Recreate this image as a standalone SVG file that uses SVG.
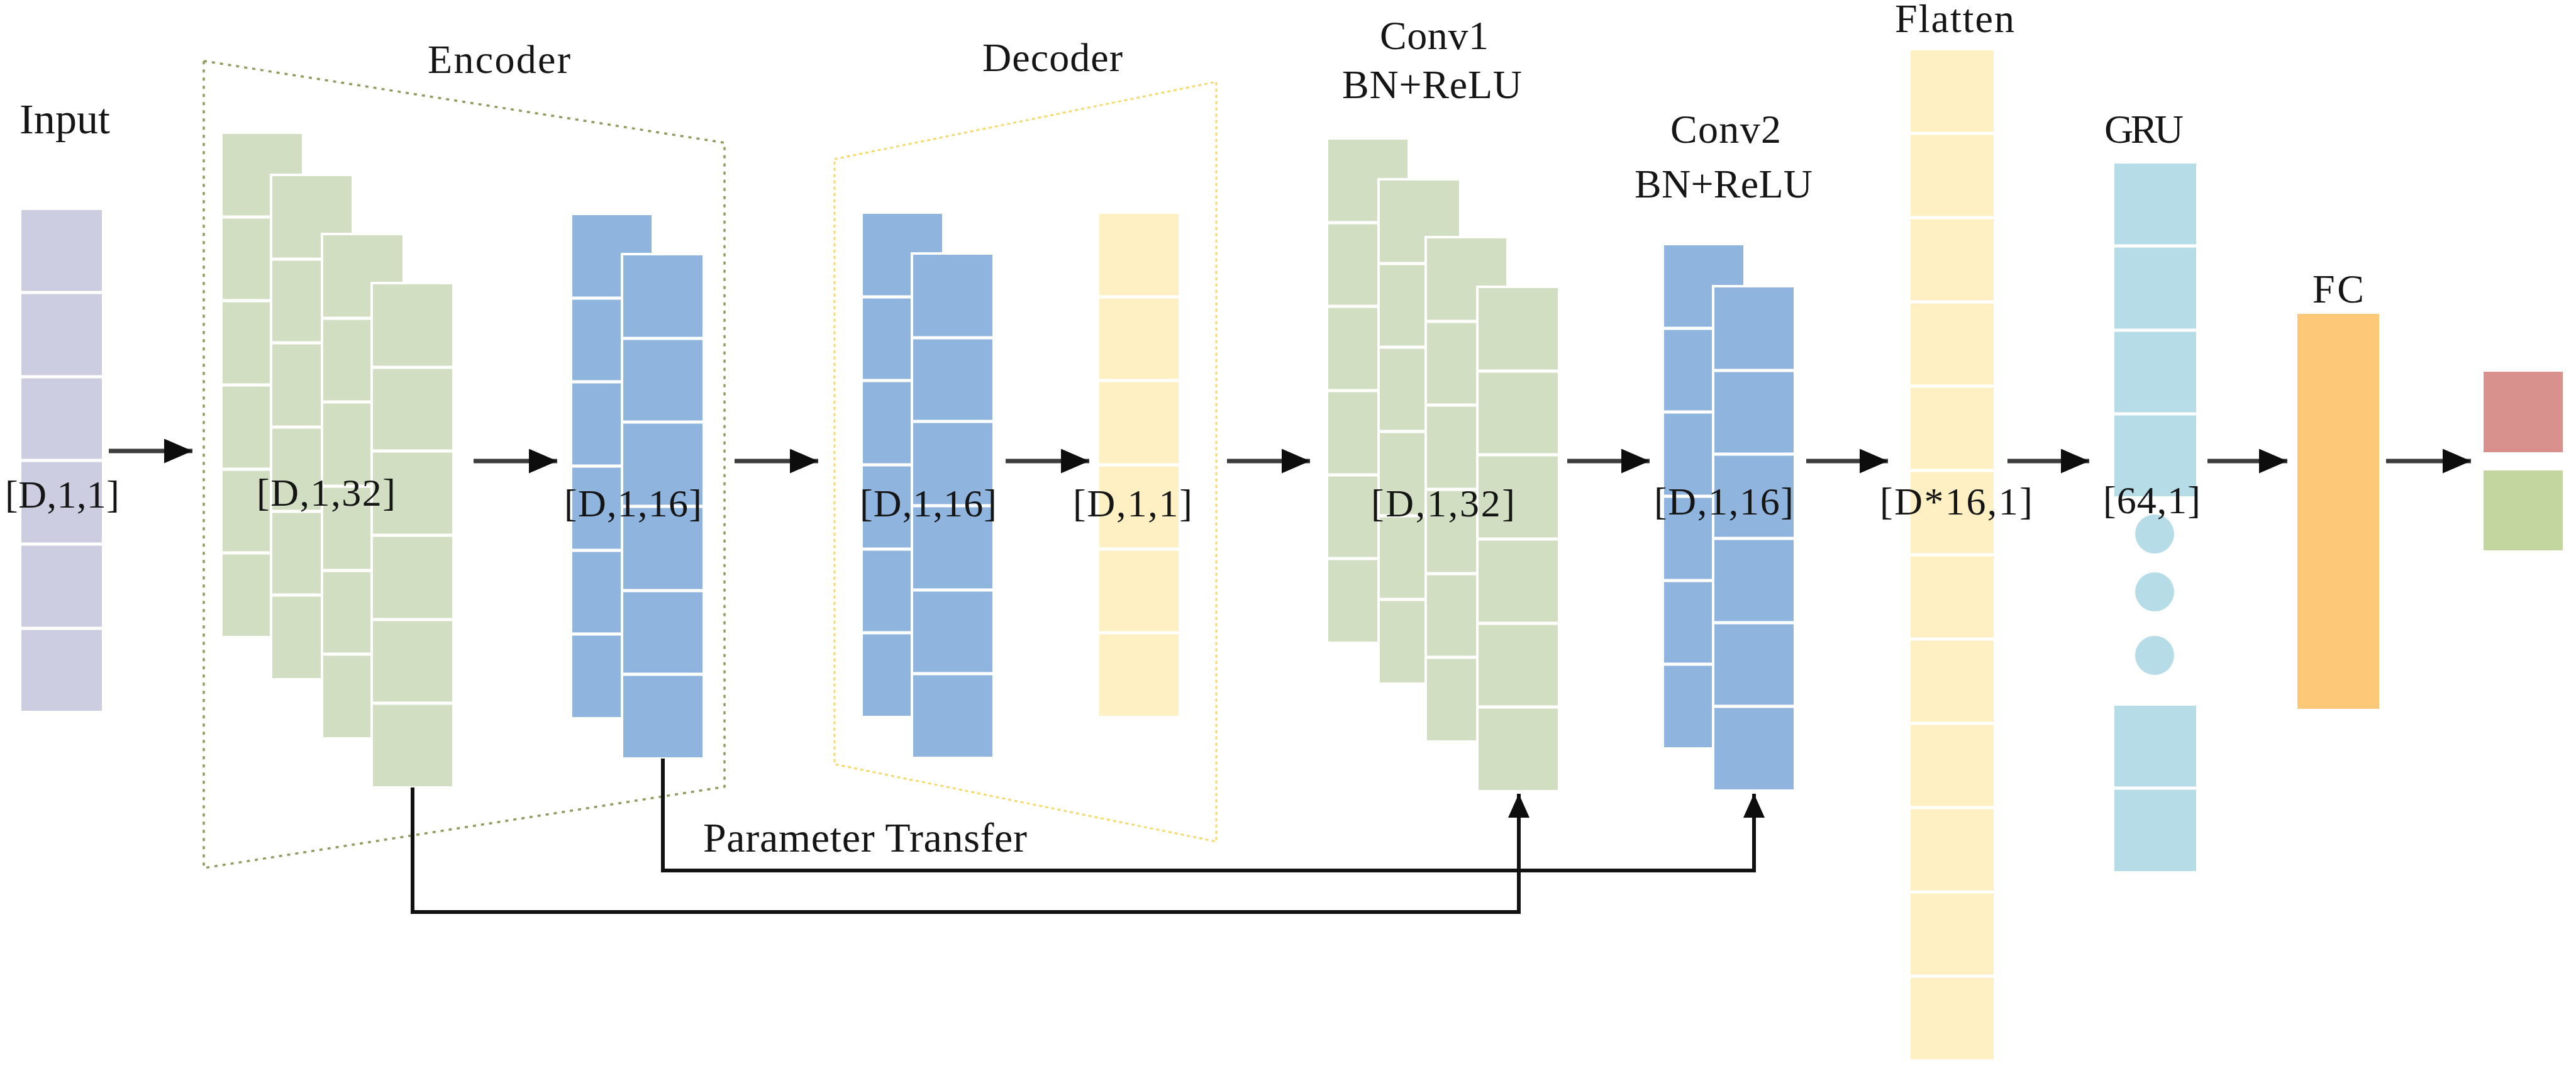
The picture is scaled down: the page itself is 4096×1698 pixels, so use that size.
<svg xmlns="http://www.w3.org/2000/svg" width="4096" height="1698" viewBox="0 0 4096 1698">
<style>
text{font-family:"Liberation Serif","Times New Roman",serif;fill:#151515}
.t{font-size:64px}
.d{font-size:62px}
.col{stroke:#fff;stroke-width:4}
.sep{stroke:#fff;stroke-width:5;fill:none}
.pu{fill:#cdcde1}
.gr{fill:#d1dec1}
.bl{fill:#8fb5de}
.ye{fill:#fef0c3}
.lb{fill:#b5dce7}
.flow{stroke:#3c3c3c;stroke-width:7;fill:none}
.skip{stroke:#111;stroke-width:6;fill:none}
</style>
<defs>
<marker id="ah" viewBox="0 0 45 39" markerUnits="userSpaceOnUse" markerWidth="45" markerHeight="39" refX="45" refY="19.5" orient="auto">
<path d="M0,0 L45,19.5 L0,39 Z" fill="#0d0d0d"/>
</marker>
<marker id="au" viewBox="0 0 38 34" markerUnits="userSpaceOnUse" markerWidth="38" markerHeight="34" refX="38" refY="17" orient="auto">
<path d="M0,0 L38,17 L0,34 Z" fill="#0d0d0d"/>
</marker>
</defs>
<rect width="4096" height="1698" fill="#fff"/>

<g id="encoder-frame">
<polygon points="324,97 1152,227 1152,1251 324,1380" fill="none" stroke="#8f9c60" stroke-width="3.5" stroke-dasharray="5 8"/>
<text class="t" x="680" y="116" textLength="227" lengthAdjust="spacing">Encoder</text>
</g>
<g id="decoder-frame">
<polygon points="1327,253 1934,130 1934,1338 1327,1215" fill="none" stroke="#f3da6a" stroke-width="3" stroke-dasharray="5 5"/>
<text class="t" x="1562" y="113" textLength="223" lengthAdjust="spacing">Decoder</text>
</g>

<g id="input">
<text class="t" x="31" y="212" style="font-size:68px" textLength="144" lengthAdjust="spacing">Input</text>
<rect class="col pu" x="32" y="332" width="132" height="800"/>
<path class="sep" d="M32,465h132M32,599h132M32,732h132M32,865h132M32,999h132"/>
<text class="d" x="8" y="807" textLength="182" lengthAdjust="spacing">[D,1,1]</text>
</g>

<g id="encoder-conv">
<rect class="col gr" x="352" y="211" width="130" height="802"/>
<path class="sep" d="M352,345h130M352,478h130M352,612h130M352,746h130M352,879h130"/>
<rect class="col gr" x="431" y="278" width="130" height="802"/>
<path class="sep" d="M431,412h130M431,545h130M431,679h130M431,813h130M431,946h130"/>
<rect class="col gr" x="512" y="372" width="130" height="802"/>
<path class="sep" d="M512,506h130M512,639h130M512,773h130M512,907h130M512,1040h130"/>
<rect class="col gr" x="591" y="450" width="130" height="802"/>
<path class="sep" d="M591,584h130M591,717h130M591,851h130M591,985h130M591,1118h130"/>
<text class="d" x="408" y="804" textLength="221" lengthAdjust="spacing">[D,1,32]</text>
</g>

<g id="encoder-code">
<rect class="col bl" x="908" y="340" width="130" height="802"/>
<path class="sep" d="M908,474h130M908,607h130M908,741h130M908,875h130M908,1008h130"/>
<rect class="col bl" x="989" y="404" width="130" height="802"/>
<path class="sep" d="M989,538h130M989,671h130M989,805h130M989,939h130M989,1072h130"/>
<text class="d" x="897" y="821" textLength="219" lengthAdjust="spacing">[D,1,16]</text>
</g>

<g id="decoder-hidden">
<rect class="col bl" x="1370" y="338" width="130" height="802"/>
<path class="sep" d="M1370,472h130M1370,605h130M1370,739h130M1370,873h130M1370,1006h130"/>
<rect class="col bl" x="1450" y="403" width="130" height="802"/>
<path class="sep" d="M1450,537h130M1450,670h130M1450,804h130M1450,938h130M1450,1071h130"/>
<text class="d" x="1367" y="821" textLength="218" lengthAdjust="spacing">[D,1,16]</text>
</g>

<g id="decoder-output">
<rect class="col ye" x="1746" y="338" width="130" height="802"/>
<path class="sep" d="M1746,472h130M1746,605h130M1746,739h130M1746,873h130M1746,1006h130"/>
<text class="d" x="1706" y="821" textLength="190" lengthAdjust="spacing">[D,1,1]</text>
</g>

<g id="conv1">
<text class="t" x="2194" y="78" textLength="173" lengthAdjust="spacing">Conv1</text>
<text class="t" x="2134" y="156" textLength="286" lengthAdjust="spacing">BN+ReLU</text>
<rect class="col gr" x="2110" y="220" width="130" height="802"/>
<path class="sep" d="M2110,354h130M2110,487h130M2110,621h130M2110,755h130M2110,888h130"/>
<rect class="col gr" x="2192" y="285" width="130" height="802"/>
<path class="sep" d="M2192,419h130M2192,552h130M2192,686h130M2192,820h130M2192,953h130"/>
<rect class="col gr" x="2267" y="377" width="130" height="802"/>
<path class="sep" d="M2267,511h130M2267,644h130M2267,778h130M2267,912h130M2267,1045h130"/>
<rect class="col gr" x="2349" y="456" width="130" height="802"/>
<path class="sep" d="M2349,590h130M2349,723h130M2349,857h130M2349,991h130M2349,1124h130"/>
<text class="d" x="2180" y="821" textLength="229" lengthAdjust="spacing">[D,1,32]</text>
</g>

<g id="conv2">
<text class="t" x="2656" y="227" textLength="176" lengthAdjust="spacing">Conv2</text>
<text class="t" x="2599" y="314" textLength="283" lengthAdjust="spacing">BN+ReLU</text>
<rect class="col bl" x="2644" y="388" width="130" height="802"/>
<path class="sep" d="M2644,522h130M2644,655h130M2644,789h130M2644,923h130M2644,1056h130"/>
<rect class="col bl" x="2724" y="455" width="130" height="802"/>
<path class="sep" d="M2724,589h130M2724,722h130M2724,856h130M2724,990h130M2724,1123h130"/>
<text class="d" x="2630" y="818" textLength="222" lengthAdjust="spacing">[D,1,16]</text>
</g>

<g id="flatten">
<text class="t" x="3013" y="51" textLength="190" lengthAdjust="spacing">Flatten</text>
<rect class="col ye" x="3036" y="78" width="136" height="1608"/>
<path class="sep" d="M3036,212h136M3036,346h136M3036,480h136M3036,614h136M3036,748h136M3036,882h136M3036,1016h136M3036,1150h136M3036,1284h136M3036,1418h136M3036,1552h136"/>
<text class="d" x="2989" y="818" textLength="243" lengthAdjust="spacing">[D*16,1]</text>
</g>

<g id="gru">
<text class="t" x="3346" y="227" textLength="126" lengthAdjust="spacing">GRU</text>
<rect class="col lb" x="3360" y="258" width="134" height="533"/>
<path class="sep" d="M3360,391h134M3360,525h134M3360,658h134"/>
<circle cx="3426" cy="849" r="31" fill="#b5dce7"/>
<circle cx="3426" cy="941" r="31" fill="#b5dce7"/>
<circle cx="3426" cy="1042" r="31" fill="#b5dce7"/>
<rect class="col lb" x="3360" y="1120" width="134" height="267"/>
<path class="sep" d="M3360,1253h134"/>
<text class="d" x="3344" y="816" textLength="155" lengthAdjust="spacing">[64,1]</text>
</g>

<g id="fc">
<text class="t" x="3677" y="481" textLength="82" lengthAdjust="spacing">FC</text>
<rect x="3653" y="499" width="130" height="628" fill="#fdc877"/>
</g>

<g id="outputs">
<rect x="3949" y="591" width="126" height="128" fill="#d9918d"/>
<rect x="3949" y="748" width="126" height="127" fill="#c3d69f"/>
</g>

<g id="connectors">
<line class="flow" x1="173" y1="717" x2="306" y2="717" marker-end="url(#ah)"/>
<line class="flow" x1="753" y1="733" x2="886" y2="733" marker-end="url(#ah)"/>
<line class="flow" x1="1168" y1="733" x2="1301" y2="733" marker-end="url(#ah)"/>
<line class="flow" x1="1599" y1="733" x2="1732" y2="733" marker-end="url(#ah)"/>
<line class="flow" x1="1951" y1="733" x2="2083" y2="733" marker-end="url(#ah)"/>
<line class="flow" x1="2492" y1="733" x2="2623" y2="733" marker-end="url(#ah)"/>
<line class="flow" x1="2872" y1="733" x2="3002" y2="733" marker-end="url(#ah)"/>
<line class="flow" x1="3192" y1="733" x2="3322" y2="733" marker-end="url(#ah)"/>
<line class="flow" x1="3510" y1="733" x2="3637" y2="733" marker-end="url(#ah)"/>
<line class="flow" x1="3794" y1="733" x2="3929" y2="733" marker-end="url(#ah)"/>
<polyline class="skip" points="656,1252 656,1450 2415,1450 2415,1262" marker-end="url(#au)"/>
<polyline class="skip" points="1054,1206 1054,1384 2789,1384 2789,1262" marker-end="url(#au)"/>
<text class="t" x="1118" y="1354" style="font-size:66px" textLength="515" lengthAdjust="spacing">Parameter Transfer</text>
</g>
</svg>
